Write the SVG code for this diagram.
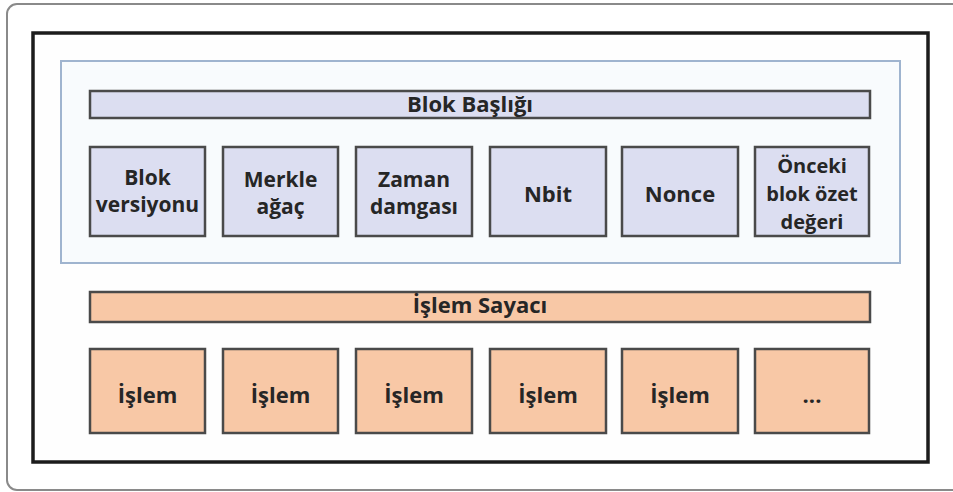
<svg xmlns="http://www.w3.org/2000/svg" width="953" height="492" viewBox="0 0 953 492">
<style>
.t{font-family:"Open Sans","Liberation Sans",sans-serif;font-weight:bold;fill:#262626;text-anchor:middle;font-size:22px}
.s{font-size:21px}
.x{font-size:20px}
.hb{fill:#dcdef1;stroke:#4a4a4a;stroke-width:2.5}
.ob{fill:#f8c8a6;stroke:#4a4a4a;stroke-width:2.5}
</style>
<rect x="0" y="0" width="953" height="492" fill="#fff"/>
<rect x="7" y="4" width="960" height="486" rx="10" fill="#fff" stroke="#8a8a8a" stroke-width="2"/>
<g id="block">
<rect x="33" y="33" width="895" height="429" fill="#fefefe" stroke="#1c1c1c" stroke-width="3.5"/>
</g>
<g id="header-area">
<rect x="61" y="61" width="839" height="202" fill="#f8fbfd" stroke="#9fb4cf" stroke-width="2"/>
</g>
<g id="blok-basligi">
<rect class="hb" x="90" y="91" width="780" height="27"/>
<text class="t" x="470" y="112">Blok Başlığı</text>
</g>
<g id="blok-versiyonu">
<rect class="hb" x="90" y="147" width="115" height="89"/>
<text class="t s" x="147.5" y="185">Blok</text>
<text class="t s" x="147.5" y="212">versiyonu</text>
</g>
<g id="merkle">
<rect class="hb" x="223" y="147" width="115" height="89"/>
<text class="t s" x="280.5" y="187">Merkle</text>
<text class="t s" x="280.5" y="214">ağaç</text>
</g>
<g id="zaman">
<rect class="hb" x="356" y="147" width="116" height="89"/>
<text class="t s" x="414" y="187">Zaman</text>
<text class="t s" x="414" y="214">damgası</text>
</g>
<g id="nbit">
<rect class="hb" x="490" y="147" width="116" height="89"/>
<text class="t" x="548" y="202">Nbit</text>
</g>
<g id="nonce">
<rect class="hb" x="622" y="147" width="116" height="89"/>
<text class="t" x="680" y="202">Nonce</text>
</g>
<g id="onceki">
<rect class="hb" x="755" y="147" width="114" height="89"/>
<text class="t x" x="812" y="173">Önceki</text>
<text class="t x" x="812" y="201">blok özet</text>
<text class="t x" x="812" y="229">değeri</text>
</g>
<g id="islem-sayaci">
<rect class="ob" x="90" y="292" width="780" height="30"/>
<text class="t" x="480" y="313">İşlem Sayacı</text>
</g>
<g id="islem1">
<rect class="ob" x="90" y="349" width="115" height="84"/>
<text class="t" x="147.5" y="403">İşlem</text>
</g>
<g id="islem2">
<rect class="ob" x="223" y="349" width="115" height="84"/>
<text class="t" x="280.5" y="403">İşlem</text>
</g>
<g id="islem3">
<rect class="ob" x="356" y="349" width="116" height="84"/>
<text class="t" x="414" y="403">İşlem</text>
</g>
<g id="islem4">
<rect class="ob" x="490" y="349" width="116" height="84"/>
<text class="t" x="548" y="403">İşlem</text>
</g>
<g id="islem5">
<rect class="ob" x="622" y="349" width="116" height="84"/>
<text class="t" x="680" y="403">İşlem</text>
</g>
<g id="islem-more">
<rect class="ob" x="755" y="349" width="114" height="84"/>
<text class="t" x="812" y="403">...</text>
</g>
<g id="connectors"></g>
</svg>
